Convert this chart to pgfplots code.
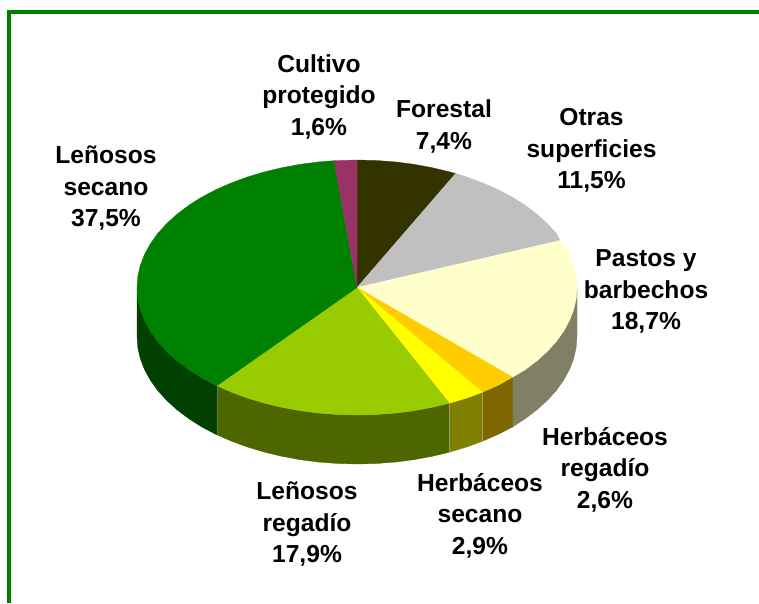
\documentclass[border=0pt]{standalone}
\usepackage{pgfplots}
\pgfplotsset{compat=1.18}
\usepackage{fontspec}
\setmainfont{Liberation Sans}
\definecolor{cForestal}{HTML}{333300}
\definecolor{cOtras}{HTML}{C0C0C0}
\definecolor{cPastos}{HTML}{FFFFCC}
\definecolor{cHreg}{HTML}{FFCC00}
\definecolor{cHsec}{HTML}{FFFF00}
\definecolor{cLreg}{HTML}{99CC00}
\definecolor{cLsec}{HTML}{008000}
\definecolor{cCult}{HTML}{993366}
\definecolor{wPastos}{HTML}{808066}
\definecolor{wHreg}{HTML}{806600}
\definecolor{wHsec}{HTML}{808000}
\definecolor{wLreg}{HTML}{4D6600}
\definecolor{wLsec}{HTML}{004000}
\definecolor{frameg}{HTML}{008000}
\tikzset{lbl/.style={font=\fontsize{24.6}{31.5}\selectfont\bfseries, align=center, inner sep=0pt, text=black}}
\begin{document}
\begin{tikzpicture}
\begin{axis}[
  scale only axis, width=759pt, height=603pt,
  xmin=0, xmax=759, ymin=0, ymax=603, y dir=reverse,
  hide axis, clip=false
]
\path[use as bounding box, fill=white] (axis cs:0,0) rectangle (axis cs:759,603);
% frame
\addplot[draw=frameg, line width=4pt, line join=miter] coordinates {(9,603) (9,12) (759,12)};
% walls
\addplot[fill=wPastos, draw=wPastos, line width=0.3pt] coordinates {(577,287.5)(576.2,298.6)(573.7,309.6)(569.5,320.5)(563.7,331.1)(556.4,341.4)(547.5,351.25)(537.2,360.6)(525.5,369.5)(512.6,377.2)(512.6,427)(525.5,418.5)(537.2,409.6)(547.5,400.25)(556.4,390.4)(563.7,380.1)(569.5,369.5)(573.7,358.6)(576.2,347.6)(577,336.5)} -- cycle;
\addplot[fill=wHreg, draw=wHreg, line width=0.3pt] coordinates {(512.6,377.2)(498.4,385.2)(482.5,392.2)(482.5,441.2)(498.4,434.2)(512.6,427)} -- cycle;
\addplot[fill=wHsec, draw=wHsec, line width=0.3pt] coordinates {(482.5,392.2)(467,397.9)(450,403)(449.4,403.2)(449.4,452.2)(450,452)(467,446.9)(482.5,441.2)} -- cycle;
\addplot[fill=wLreg, draw=wLreg, line width=0.3pt] coordinates {(449.4,403.2)(432.2,407.3)(413.9,410.7)(395.2,413.1)(376.2,414.5)(357,415)(337.8,414.5)(318.8,413.1)(300.1,410.7)(281.8,407.3)(264,403)(247,397.9)(230.8,391.9)(216.8,385.7)(216.8,434.7)(230.8,440.9)(247,446.9)(264,452)(281.8,456.3)(300.1,459.7)(318.8,462.1)(337.8,463.5)(357,464)(376.2,463.5)(395.2,462.1)(413.9,459.7)(432.2,456.3)(449.4,452.2)} -- cycle;
\addplot[fill=wLsec, draw=wLsec, line width=0.3pt] coordinates {(216.8,385.7)(215.6,385.2)(201.4,377.7)(188.5,369.5)(176.8,360.6)(166.5,351.25)(157.6,341.4)(150.3,331.1)(144.5,320.5)(140.3,309.6)(137.8,298.6)(137,287.5)(137,336.5)(137.8,347.6)(140.3,358.6)(144.5,369.5)(150.3,380.1)(157.6,390.4)(166.5,400.25)(176.8,409.6)(188.5,418.5)(201.4,426.7)(215.6,434.2)(216.8,434.7)} -- cycle;
% top slices
\addplot[fill=cForestal, draw=cForestal, line width=0.3pt] coordinates {(357,287.5)(357,160)(376.2,160.5)(395.2,161.9)(413.9,164.3)(432.2,167.7)(450,172)(455.6,173.5)} -- cycle;
\addplot[fill=cOtras, draw=cOtras, line width=0.3pt] coordinates {(357,287.5)(455.6,173.5)(467,177.1)(483.2,183.1)(498.4,189.8)(512.6,197.3)(525.5,205.5)(537.2,214.4)(547.5,223.75)(556.4,233.6)(560,240.5)} -- cycle;
\addplot[fill=cPastos, draw=cPastos, line width=0.3pt] coordinates {(357,287.5)(560,240.5)(563.7,243.9)(569.5,254.5)(573.7,265.4)(576.2,276.4)(577,287.5)(576.2,298.6)(573.7,309.6)(569.5,320.5)(563.7,331.1)(556.4,341.4)(547.5,351.25)(537.2,360.6)(525.5,369.5)(512.6,377.2)} -- cycle;
\addplot[fill=cHreg, draw=cHreg, line width=0.3pt] coordinates {(357,287.5)(512.6,377.2)(498.4,385.2)(482.5,392.2)} -- cycle;
\addplot[fill=cHsec, draw=cHsec, line width=0.3pt] coordinates {(357,287.5)(482.5,392.2)(467,397.9)(450,403)(449.4,403.2)} -- cycle;
\addplot[fill=cLreg, draw=cLreg, line width=0.3pt] coordinates {(357,287.5)(449.4,403.2)(432.2,407.3)(413.9,410.7)(395.2,413.1)(376.2,414.5)(357,415)(337.8,414.5)(318.8,413.1)(300.1,410.7)(281.8,407.3)(264,403)(247,397.9)(230.8,391.9)(216.8,385.7)} -- cycle;
\addplot[fill=cLsec, draw=cLsec, line width=0.3pt] coordinates {(357,287.5)(216.8,385.7)(215.6,385.2)(201.4,377.7)(188.5,369.5)(176.8,360.6)(166.5,351.25)(157.6,341.4)(150.3,331.1)(144.5,320.5)(140.3,309.6)(137.8,298.6)(137,287.5)(137.8,276.4)(140.3,265.4)(144.5,254.5)(150.3,243.9)(157.6,233.6)(166.5,223.75)(176.8,214.4)(188.5,205.5)(201.4,197.3)(215.6,189.8)(230.8,183.1)(247,177.1)(264,172)(281.8,167.7)(300.1,164.3)(318.8,161.9)(334,160.7)} -- cycle;
\addplot[fill=cCult, draw=cCult, line width=0.3pt] coordinates {(357,287.5)(334,160.7)(337.8,160.5)(357,160)} -- cycle;
% wall seams
\addplot[draw=white!70!black, line width=0.4pt, opacity=0.6] coordinates {(482.5,392.2)(482.5,441.2)};
\addplot[draw=white!70!black, line width=0.4pt, opacity=0.6] coordinates {(449.4,403.2)(449.4,452.2)};
\addplot[draw=gray, line width=0.4pt, opacity=0.6] coordinates {(216.8,385.7)(216.8,434.7)};
% labels
\node[lbl] at (axis cs:319,96.5) {Cultivo\\protegido\\1,6\%};
\node[lbl] at (axis cs:444,126.5) {Forestal\\7,4\%};
\node[lbl] at (axis cs:591.5,150.5) {Otras\\superficies\\11,5\%};
\node[lbl] at (axis cs:646,291.5) {Pastos y\\barbechos\\18,7\%};
\node[lbl] at (axis cs:605,469.5) {Herbáceos\\regadío\\2,6\%};
\node[lbl] at (axis cs:480,515.5) {Herbáceos\\secano\\2,9\%};
\node[lbl] at (axis cs:307,524.5) {Leñosos\\regadío\\17,9\%};
\node[lbl] at (axis cs:106,188.5) {Leñosos\\secano\\37,5\%};
\end{axis}
\end{tikzpicture}
\end{document}
